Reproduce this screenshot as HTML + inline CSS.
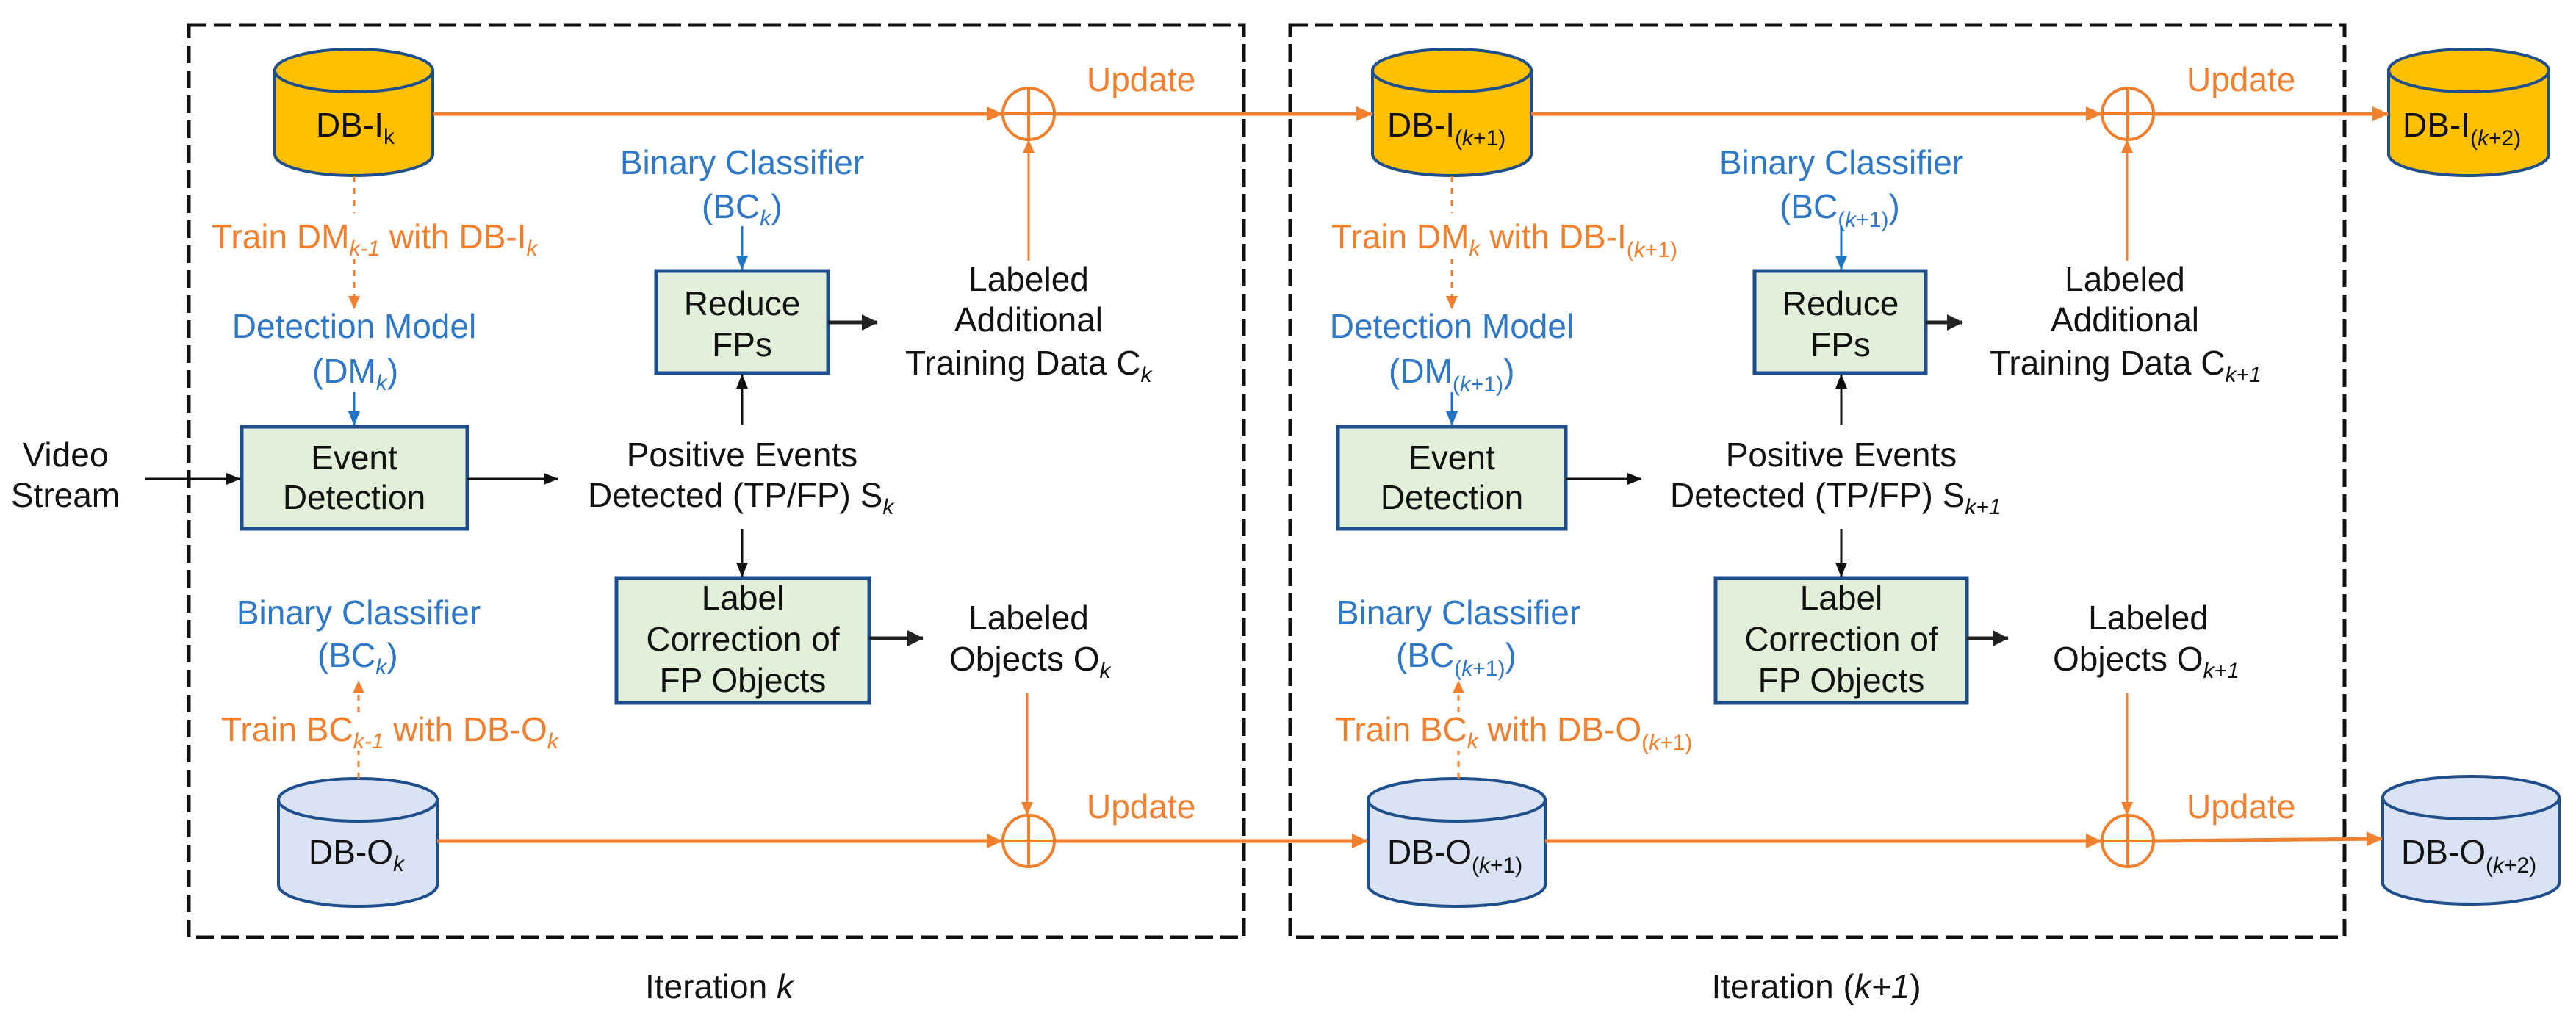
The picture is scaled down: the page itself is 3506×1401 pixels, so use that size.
<!DOCTYPE html>
<html><head><meta charset="utf-8"><style>
html,body{margin:0;padding:0;background:#fff;}
svg{display:block;}
text{font-family:"Liberation Sans",Arial,sans-serif;font-size:46px;}
.o{fill:#f07f2e;} .b{fill:#2f78c8;} .k{fill:#111;}
.s{font-size:30px;}
</style></head><body>
<svg width="3506" height="1401" viewBox="0 0 3506 1401" xmlns="http://www.w3.org/2000/svg">
<defs>
<marker id="ao" markerWidth="22" markerHeight="20" refX="21" refY="10" orient="auto" markerUnits="userSpaceOnUse" viewBox="0 0 22 20"><path d="M0,0 L22,10 L0,20 z" fill="#f07f2e"/></marker>
<marker id="aos" markerWidth="18" markerHeight="16" refX="17" refY="8" orient="auto" markerUnits="userSpaceOnUse" viewBox="0 0 18 16"><path d="M0,0 L18,8 L0,16 z" fill="#f07f2e"/></marker>
<marker id="ak" markerWidth="20" markerHeight="16" refX="19" refY="8" orient="auto" markerUnits="userSpaceOnUse" viewBox="0 0 20 16"><path d="M0,0 L20,8 L0,16 z" fill="#111"/></marker>
<marker id="akb" markerWidth="22" markerHeight="22" refX="21" refY="11" orient="auto" markerUnits="userSpaceOnUse" viewBox="0 0 22 22"><path d="M0,0 L22,11 L0,22 z" fill="#222"/></marker>
<marker id="ab" markerWidth="20" markerHeight="16" refX="19" refY="8" orient="auto" markerUnits="userSpaceOnUse" viewBox="0 0 20 16"><path d="M0,0 L20,8 L0,16 z" fill="#1f74c4"/></marker>
</defs>

<rect x="257" y="34" width="1436" height="1242" fill="none" stroke="#111" stroke-width="5" stroke-dasharray="24 10"/>
<rect x="1756" y="34" width="1435" height="1242" fill="none" stroke="#111" stroke-width="5" stroke-dasharray="24 10"/>

<g stroke="#1f4e8c" stroke-width="4">
<path d="M374 96 L374 210 A107.5 29 0 0 0 589 210 L589 96 Z" fill="#ffc000"/><ellipse cx="481.5" cy="96" rx="107.5" ry="29" fill="#ffc000"/>
<path d="M1868 96 L1868 210 A108 29 0 0 0 2084 210 L2084 96 Z" fill="#ffc000"/><ellipse cx="1976" cy="96" rx="108" ry="29" fill="#ffc000"/>
<path d="M3251 96 L3251 210 A109 29 0 0 0 3469 210 L3469 96 Z" fill="#ffc000"/><ellipse cx="3360" cy="96" rx="109" ry="29" fill="#ffc000"/>
<path d="M379 1089 L379 1205 A108 29 0 0 0 595 1205 L595 1089 Z" fill="#dae3f3"/><ellipse cx="487" cy="1089" rx="108" ry="29" fill="#dae3f3"/>
<path d="M1862 1089 L1862 1205 A120.5 29 0 0 0 2103 1205 L2103 1089 Z" fill="#dae3f3"/><ellipse cx="1982.5" cy="1089" rx="120.5" ry="29" fill="#dae3f3"/>
<path d="M3243 1086 L3243 1202 A120 29 0 0 0 3483 1202 L3483 1086 Z" fill="#dae3f3"/><ellipse cx="3363" cy="1086" rx="120" ry="29" fill="#dae3f3"/>
</g>
<g class="k">
<text x="430" y="186">DB-I<tspan class="s" dy="10">k</tspan></text>
<text x="1888" y="186">DB-I<tspan class="s" dy="12">(<tspan font-style="italic">k</tspan>+1)</tspan></text>
<text x="3270" y="186">DB-I<tspan class="s" dy="12">(<tspan font-style="italic">k</tspan>+2)</tspan></text>
<text x="420" y="1176">DB-O<tspan class="s" dy="10" font-style="italic">k</tspan></text>
<text x="1888" y="1176">DB-O<tspan class="s" dy="12">(<tspan font-style="italic">k</tspan>+1)</tspan></text>
<text x="3268" y="1176">DB-O<tspan class="s" dy="12">(<tspan font-style="italic">k</tspan>+2)</tspan></text>
</g>

<g fill="#e2f0d9" stroke="#1f4e8c" stroke-width="5">
<rect x="329" y="581" width="307" height="139"/>
<rect x="893" y="369" width="234" height="139"/>
<rect x="839" y="787" width="344" height="170"/>
<rect x="1821" y="581" width="310" height="139"/>
<rect x="2388" y="369" width="233" height="139"/>
<rect x="2335" y="787" width="342" height="170"/>
</g>
<g class="k" text-anchor="middle">
<text x="482" y="639">Event</text><text x="482" y="693">Detection</text>
<text x="1010" y="429">Reduce</text><text x="1010" y="485">FPs</text>
<text x="1011" y="830">Label</text><text x="1011" y="886">Correction of</text><text x="1011" y="942">FP Objects</text>
<text x="1976" y="639">Event</text><text x="1976" y="693">Detection</text>
<text x="2505" y="429">Reduce</text><text x="2505" y="485">FPs</text>
<text x="2506" y="830">Label</text><text x="2506" y="886">Correction of</text><text x="2506" y="942">FP Objects</text>
<text x="89" y="635">Video</text><text x="89" y="690">Stream</text>
<text x="1010" y="635">Positive Events</text>
<text x="2506" y="635">Positive Events</text>
<text x="1400" y="396">Labeled</text><text x="1400" y="451">Additional</text>
<text x="2892" y="396">Labeled</text><text x="2892" y="451">Additional</text>
<text x="1400" y="857">Labeled</text>
<text x="2924" y="857">Labeled</text>
<text x="979" y="1359">Iteration <tspan font-style="italic">k</tspan></text>
<text x="2472" y="1359">Iteration (<tspan font-style="italic">k+1</tspan>)</text>
</g>
<g class="k">
<text x="800" y="690">Detected (TP/FP) S<tspan class="s" dy="10" font-style="italic">k</tspan></text>
<text x="2273" y="690">Detected (TP/FP) S<tspan class="s" dy="10" font-style="italic">k+1</tspan></text>
<text x="1232" y="510">Training Data C<tspan class="s" dy="10" font-style="italic">k</tspan></text>
<text x="2708" y="510">Training Data C<tspan class="s" dy="10" font-style="italic">k+1</tspan></text>
<text x="1292" y="913">Objects O<tspan class="s" dy="10" font-style="italic">k</tspan></text>
<text x="2794" y="913">Objects O<tspan class="s" dy="10" font-style="italic">k+1</tspan></text>
</g>

<g class="b" text-anchor="middle">
<text x="1010" y="237">Binary Classifier</text>
<text x="2506" y="237">Binary Classifier</text>
<text x="482" y="460">Detection Model</text>
<text x="1976" y="460">Detection Model</text>
<text x="488" y="850">Binary Classifier</text>
<text x="1985" y="850">Binary Classifier</text>
</g>
<g class="b">
<text x="955" y="297">(BC<tspan class="s" dy="10" font-style="italic">k</tspan><tspan dy="-10">)</tspan></text>
<text x="2422" y="297">(BC<tspan class="s" dy="12">(<tspan font-style="italic">k</tspan>+1)</tspan><tspan dy="-12">)</tspan></text>
<text x="425" y="521">(DM<tspan class="s" dy="10" font-style="italic">k</tspan><tspan dy="-10">)</tspan></text>
<text x="1890" y="521">(DM<tspan class="s" dy="12">(<tspan font-style="italic">k</tspan>+1)</tspan><tspan dy="-12">)</tspan></text>
<text x="432" y="908">(BC<tspan class="s" dy="10" font-style="italic">k</tspan><tspan dy="-10">)</tspan></text>
<text x="1900" y="908">(BC<tspan class="s" dy="12">(<tspan font-style="italic">k</tspan>+1)</tspan><tspan dy="-12">)</tspan></text>
</g>

<g class="o">
<text x="1479" y="124">Update</text>
<text x="2976" y="124">Update</text>
<text x="1479" y="1114">Update</text>
<text x="2976" y="1114">Update</text>
<text x="288" y="338">Train DM<tspan class="s" dy="10" font-style="italic">k-1</tspan><tspan dy="-10"> with DB-I</tspan><tspan class="s" dy="10" font-style="italic">k</tspan></text>
<text x="1812" y="338">Train DM<tspan class="s" dy="10" font-style="italic">k</tspan><tspan dy="-10"> with DB-I</tspan><tspan class="s" dy="12">(<tspan font-style="italic">k</tspan>+1)</tspan></text>
<text x="301" y="1009">Train BC<tspan class="s" dy="10" font-style="italic">k-1</tspan><tspan dy="-10"> with DB-O</tspan><tspan class="s" dy="10" font-style="italic">k</tspan></text>
<text x="1817" y="1009">Train BC<tspan class="s" dy="10" font-style="italic">k</tspan><tspan dy="-10"> with DB-O</tspan><tspan class="s" dy="12">(<tspan font-style="italic">k</tspan>+1)</tspan></text>
</g>

<g fill="none" stroke="#f07f2e" stroke-width="4">
<ellipse cx="1400" cy="155" rx="35" ry="35"/><path d="M1365 155 H1435 M1400 120 V190"/>
<ellipse cx="2896" cy="155" rx="35" ry="35"/><path d="M2861 155 H2931 M2896 120 V190"/>
<ellipse cx="1400" cy="1145" rx="35" ry="35"/><path d="M1365 1145 H1435 M1400 1110 V1180"/>
<ellipse cx="2896" cy="1145" rx="35" ry="35"/><path d="M2861 1145 H2931 M2896 1110 V1180"/>
</g>

<g stroke="#f07f2e" stroke-width="5" fill="none">
<line x1="589" y1="155" x2="1364" y2="155" marker-end="url(#ao)"/>
<line x1="1435" y1="155" x2="1867" y2="155" marker-end="url(#ao)"/>
<line x1="2084" y1="155" x2="2860" y2="155" marker-end="url(#ao)"/>
<line x1="2931" y1="155" x2="3250" y2="155" marker-end="url(#ao)"/>
<line x1="595" y1="1145" x2="1364" y2="1145" marker-end="url(#ao)"/>
<line x1="1435" y1="1145" x2="1861" y2="1145" marker-end="url(#ao)"/>
<line x1="2103" y1="1145" x2="2860" y2="1145" marker-end="url(#ao)"/>
<line x1="2931" y1="1145" x2="3242" y2="1142" marker-end="url(#ao)"/>
</g>
<g stroke="#f07f2e" stroke-width="3" fill="none">
<line x1="1400" y1="355" x2="1400" y2="191" marker-end="url(#aos)"/>
<line x1="2895" y1="355" x2="2895" y2="191" marker-end="url(#aos)"/>
<line x1="1398" y1="944" x2="1398" y2="1109" marker-end="url(#aos)"/>
<line x1="2895" y1="944" x2="2895" y2="1109" marker-end="url(#aos)"/>
</g>
<g stroke="#f07f2e" stroke-width="3" fill="none" stroke-dasharray="8 8">
<line x1="482" y1="240" x2="482" y2="290"/>
<line x1="482" y1="352" x2="482" y2="420" marker-end="url(#aos)"/>
<line x1="1976" y1="240" x2="1976" y2="290"/>
<line x1="1976" y1="352" x2="1976" y2="420" marker-end="url(#aos)"/>
<line x1="488" y1="1060" x2="488" y2="1022"/>
<line x1="488" y1="970" x2="488" y2="927" marker-end="url(#aos)"/>
<line x1="1985" y1="1060" x2="1985" y2="1022"/>
<line x1="1985" y1="970" x2="1985" y2="927" marker-end="url(#aos)"/>
</g>

<g stroke="#1f74c4" stroke-width="3">
<line x1="1010" y1="308" x2="1010" y2="367" marker-end="url(#ab)"/>
<line x1="2506" y1="308" x2="2506" y2="367" marker-end="url(#ab)"/>
<line x1="482" y1="534" x2="482" y2="579" marker-end="url(#ab)"/>
<line x1="1976" y1="534" x2="1976" y2="579" marker-end="url(#ab)"/>
</g>

<g stroke="#111" stroke-width="3">
<line x1="198" y1="652" x2="327" y2="652" marker-end="url(#ak)"/>
<line x1="636" y1="652" x2="759" y2="652" marker-end="url(#ak)"/>
<line x1="2131" y1="652" x2="2234" y2="652" marker-end="url(#ak)"/>
<line x1="1010" y1="578" x2="1010" y2="510" marker-end="url(#ak)"/>
<line x1="2506" y1="578" x2="2506" y2="510" marker-end="url(#ak)"/>
<line x1="1010" y1="720" x2="1010" y2="785" marker-end="url(#ak)"/>
<line x1="2506" y1="720" x2="2506" y2="785" marker-end="url(#ak)"/>
</g>
<g stroke="#222" stroke-width="5">
<line x1="1127" y1="439" x2="1194" y2="439" marker-end="url(#akb)"/>
<line x1="2621" y1="439" x2="2671" y2="439" marker-end="url(#akb)"/>
<line x1="1183" y1="869" x2="1256" y2="869" marker-end="url(#akb)"/>
<line x1="2677" y1="869" x2="2733" y2="869" marker-end="url(#akb)"/>
</g>
</svg>
</body></html>
